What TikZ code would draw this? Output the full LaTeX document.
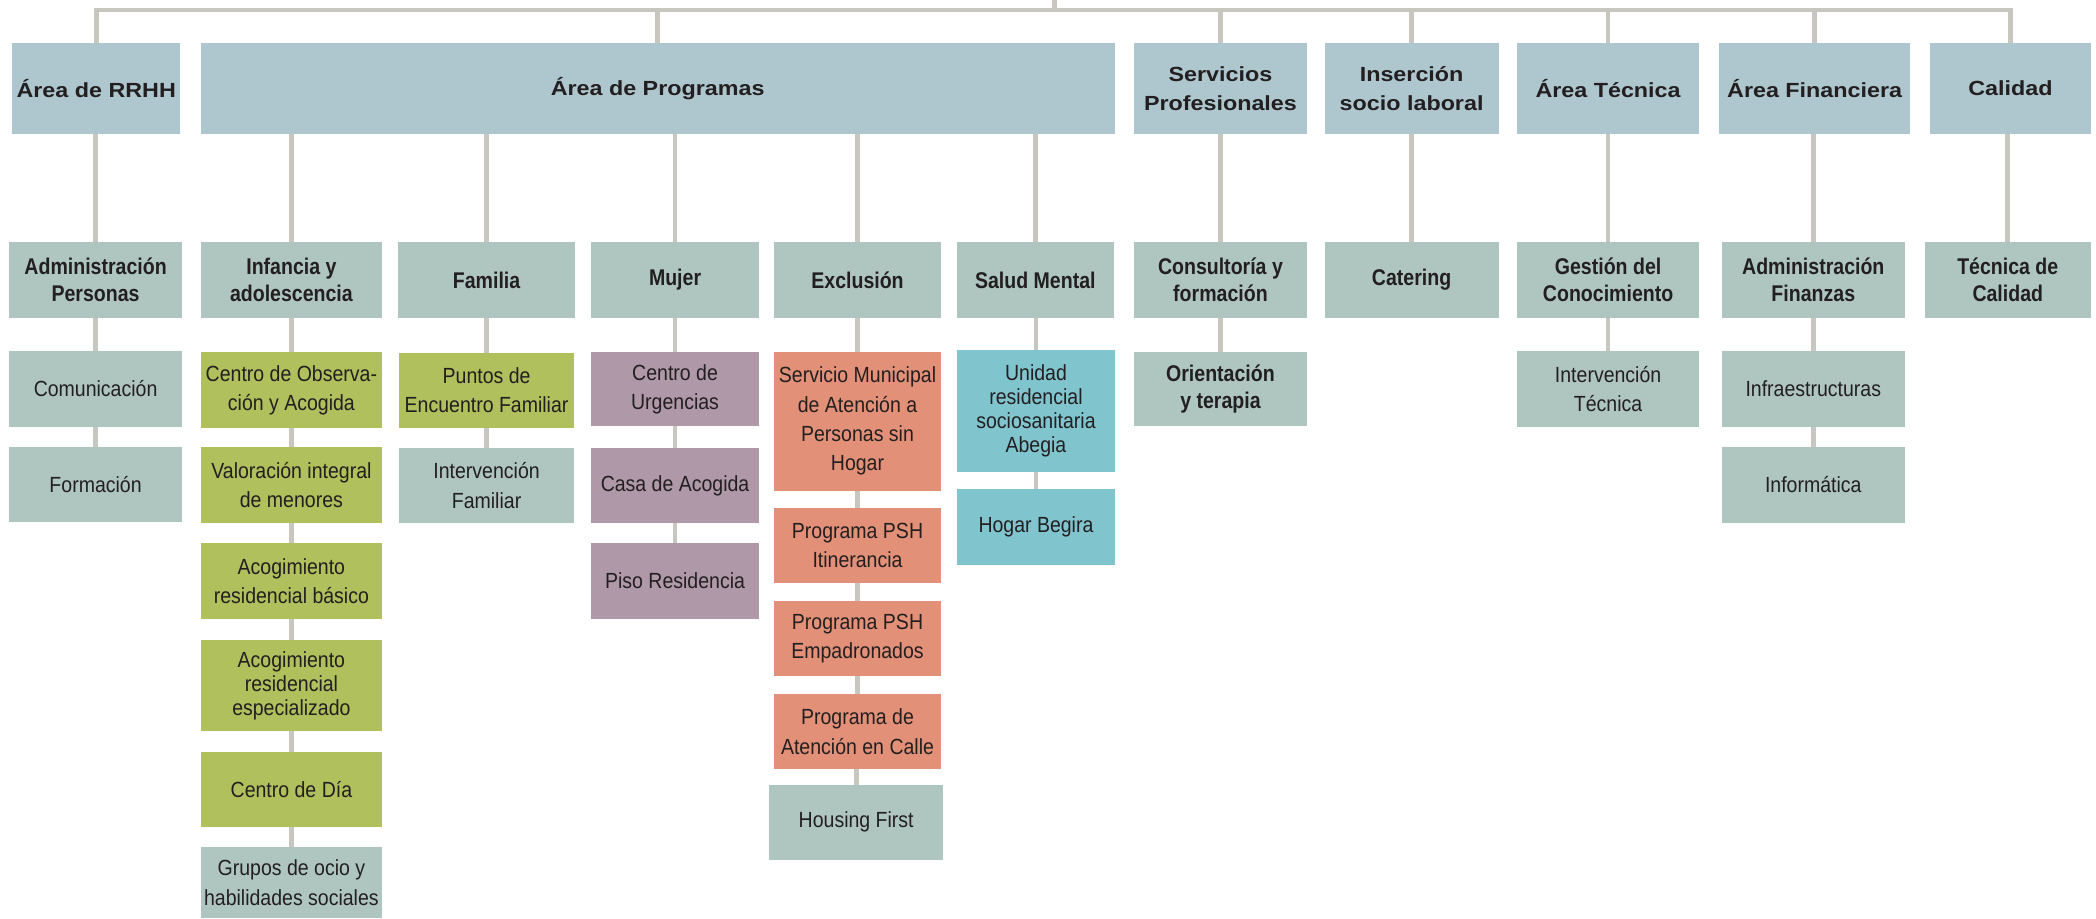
\documentclass[tikz,border=0pt]{standalone}
\usepackage{fontspec}
\setmainfont{Liberation Sans}
\newfontfamily\topfont[FakeStretch=1.14]{Liberation Sans}
\newfontfamily\subfont[FakeStretch=0.86]{Liberation Sans}
\newfontfamily\itemfont[FakeStretch=0.89]{Liberation Sans}

\definecolor{areablue}{RGB}{174,198,205}
\definecolor{sagegray}{RGB}{175,198,192}
\definecolor{leafgreen}{RGB}{176,192,92}
\definecolor{mauve}{RGB}{175,152,168}
\definecolor{salmonred}{RGB}{226,145,120}
\definecolor{aqua}{RGB}{128,196,206}
\definecolor{wire}{RGB}{199,199,191}
\definecolor{ink}{RGB}{35,31,32}

\begin{document}
\begin{tikzpicture}[x=1pt, y=-1pt,
    cell/.style={inner sep=0pt, outer sep=0pt, align=center, text=ink},
    area/.style={cell, fill=areablue, minimum height=68pt,
        font=\topfont\bfseries\fontsize{15.3}{21.7}\selectfont},
    unit/.style={cell, fill=sagegray, minimum height=57pt,
        font=\subfont\bfseries\fontsize{17}{20.5}\selectfont},
    item/.style={cell, fill=sagegray, minimum height=56.5pt,
        font=\itemfont\fontsize{16.4}{21.9}\selectfont},
    tight/.style={font=\itemfont\fontsize{16.4}{17.8}\selectfont},
    link/.style={draw=wire, line width=3.5pt}]

    % page size of the original chart
    \useasboundingbox (0,0) rectangle (1568,687);

    % areas
    \node[area, minimum width=126pt] (rrhh)  at (72,66)     {Área de RRHH};
    \node[area, minimum width=684pt] (prog)  at (492,66)    {Área de Programas};
    \node[area, minimum width=130pt] (serv)  at (913,66)    {Servicios\\Profesionales};
    \node[area, minimum width=130pt] (inser) at (1056,66)   {Inserción\\socio laboral};
    \node[area, minimum width=136pt] (tecn)  at (1203,66)   {Área Técnica};
    \node[area, minimum width=143pt] (finan) at (1357.5,66) {Área Financiera};
    \node[area, minimum width=120pt] (calid) at (1504,66)   {Calidad};

    % units
    \node[unit, minimum width=129pt] (admper) at (71.5,209.5)   {Administración\\Personas};
    \node[unit, minimum width=136pt] (infan)  at (218,209.5)    {Infancia y\\adolescencia};
    \node[unit, minimum width=132pt] (famil)  at (364,209.5)    {Familia};
    \node[unit, minimum width=126pt] (mujer)  at (505,209.5)    {Mujer};
    \node[unit, minimum width=125pt] (exclu)  at (641.5,209.5)  {Exclusión};
    \node[unit, minimum width=117pt] (salud)  at (774.5,209.5)  {Salud Mental};
    \node[unit, minimum width=130pt] (consu)  at (913,209.5)    {Consultoría y\\formación};
    \node[unit, minimum width=130pt] (cater)  at (1056,209.5)   {Catering};
    \node[unit, minimum width=136pt] (gesti)  at (1203,209.5)   {Gestión del\\Conocimiento};
    \node[unit, minimum width=137pt] (admfin) at (1356.5,209.5) {Administración\\Finanzas};
    \node[unit, minimum width=124pt] (tecal)  at (1502,209.5)   {Técnica de\\Calidad};

    % RRHH
    \node[item, minimum width=129pt] (comun) at (71.5,291)   {Comunicación};
    \node[item, minimum width=129pt] (forma) at (71.5,362.5) {Formación};

    % Infancia y adolescencia
    \node[item, fill=leafgreen, minimum width=136pt] (cobs)  at (218,291.75) {Centro de Observa-\\ción y Acogida};
    \node[item, fill=leafgreen, minimum width=136pt] (valor) at (218,362.75) {Valoración integral\\de menores};
    \node[item, fill=leafgreen, minimum width=136pt, minimum height=57pt] (abas) at (218,434.5) {Acogimiento\\residencial básico};
    \node[item, tight, fill=leafgreen, minimum width=136pt, minimum height=68pt] (aesp) at (218,513) {Acogimiento\\residencial\\especializado};
    \node[item, fill=leafgreen, minimum width=136pt] (cdia)  at (218,590.75) {Centro de Día};
    \node[item, minimum width=136pt, minimum height=53.5pt] (grupos) at (218,660.25) {Grupos de ocio y\\habilidades sociales};

    % Familia
    \node[item, fill=leafgreen, minimum width=131pt, minimum height=56pt] (puntos) at (364,292) {Puntos de\\Encuentro Familiar};
    \node[item, minimum width=131pt] (intfam) at (364,363.25) {Intervención\\Familiar};

    % Mujer
    \node[item, fill=mauve, minimum width=126pt, minimum height=56pt] (urgen) at (505,291) {Centro de\\Urgencias};
    \node[item, fill=mauve, minimum width=126pt] (casa) at (505,363.25) {Casa de Acogida};
    \node[item, fill=mauve, minimum width=126pt, minimum height=57pt] (piso) at (505,434.5) {Piso Residencia};

    % Exclusión
    \node[item, fill=salmonred, minimum width=125pt, minimum height=104pt] (smah) at (641.5,315) {Servicio Municipal\\de Atención a\\Personas sin\\Hogar};
    \node[item, fill=salmonred, minimum width=125pt] (itin)  at (641.5,408.25) {Programa PSH\\Itinerancia};
    \node[item, fill=salmonred, minimum width=125pt] (empad) at (641.5,477.75) {Programa PSH\\Empadronados};
    \node[item, fill=salmonred, minimum width=125pt] (calle) at (641.5,547.25) {Programa de\\Atención en Calle};
    \node[item, minimum width=130pt, minimum height=56pt] (housing) at (640.5,615) {Housing First};

    % Salud Mental
    \node[item, tight, fill=aqua, minimum width=118pt, minimum height=91pt] (abegia) at (775,307.4) {Unidad\\residencial\\sociosanitaria\\Abegia};
    \node[item, fill=aqua, minimum width=118pt, minimum height=57pt] (begira) at (775,394.2) {Hogar Begira};

    % Servicios Profesionales, Técnica, Financiera
    \node[item, minimum width=130pt, minimum height=56pt,
          font=\subfont\bfseries\fontsize{17}{20.5}\selectfont] (orient) at (913,291) {Orientación\\y terapia};
    \node[item, minimum width=136pt] (inttec)   at (1203,291)     {Intervención\\Técnica};
    \node[item, minimum width=137pt] (infra)    at (1356.5,291)   {Infraestructuras};
    \node[item, minimum width=137pt] (informat) at (1356.5,362.75) {Informática};

    % top bus
    \coordinate (root) at (789,0);
    \coordinate (bus) at (789,7.5);
    \foreach \t in {rrhh,prog,serv,inser,tecn,finan,calid}
        \draw[link] (root) -- (bus) -| (\t.north);

    % vertical connectors
    \foreach \a/\b in {rrhh/admper, admper/comun, comun/forma,
            prog/infan, prog/famil, prog/mujer, prog/exclu, prog/salud,
            infan/cobs, cobs/valor, valor/abas, abas/aesp, aesp/cdia, cdia/grupos,
            famil/puntos, puntos/intfam, mujer/urgen, urgen/casa, casa/piso,
            exclu/smah, smah/itin, itin/empad, empad/calle, calle/housing,
            salud/abegia, abegia/begira, serv/consu, consu/orient, inser/cater,
            tecn/gesti, gesti/inttec, finan/admfin, admfin/infra, infra/informat,
            calid/tecal}
        \draw[link] (\b.north |- \a.south) -- (\b.north);

\end{tikzpicture}
\end{document}
